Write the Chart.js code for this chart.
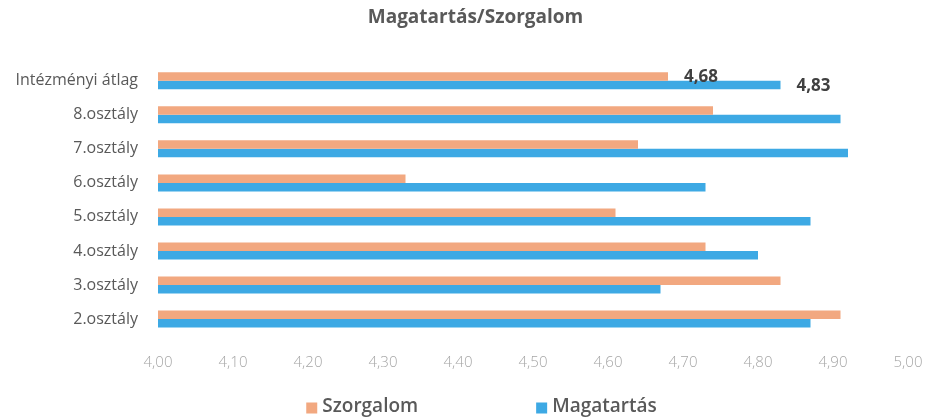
<!DOCTYPE html>
<html>
<head>
<meta charset="utf-8">
<script src="https://cdn.jsdelivr.net/npm/chart.js@4"></script>
<style>
  html, body { margin: 0; padding: 0; background: #fff; }
</style>
</head>
<body>
<canvas id="chart" width="929" height="418"></canvas>
<script>
// ========== Data ==========
const categories = ['Intézményi átlag', '8.osztály', '7.osztály', '6.osztály', '5.osztály', '4.osztály', '3.osztály', '2.osztály'];
const szorgalom  = [4.68, 4.74, 4.64, 4.33, 4.61, 4.73, 4.83, 4.91];
const magatartas = [4.83, 4.91, 4.92, 4.73, 4.87, 4.80, 4.67, 4.87];
const xTicks = [4.0, 4.1, 4.2, 4.3, 4.4, 4.5, 4.6, 4.7, 4.8, 4.9, 5.0];
// only the average row carries value labels
const labelledRows = ['Intézményi átlag'];

const FONT = "'Open Sans'";
const fmt = v => v.toFixed(2).replace('.', ',');

// value labels for the average row, next to bar ends
const valueLabels = {
  id: 'valueLabels',
  afterDatasetsDraw(chart) {
    const { ctx } = chart;
    ctx.save();
    ctx.font = 'bold 17px ' + FONT;
    ctx.fillStyle = '#404040';
    ctx.textBaseline = 'middle';
    chart.data.datasets.forEach((ds, di) => {
      chart.getDatasetMeta(di).data.forEach((bar, i) => {
        if (!labelledRows.includes(chart.data.labels[i])) return;
        ctx.fillText(fmt(ds.data[i]), bar.x + 16, bar.y + 1);
      });
    });
    ctx.restore();
  }
};

// wide-spaced legend at the bottom (built-in legend padding also grows height)
const wideLegend = {
  id: 'wideLegend',
  afterDraw(chart) {
    const { ctx } = chart;
    const gap = 118, box = 11, y = 407;
    ctx.save();
    ctx.font = '600 19px ' + FONT;
    ctx.textBaseline = 'middle';
    const items = chart.data.datasets.map(ds => ({ ds, w: box + 5 + ctx.measureText(ds.label).width }));
    const total = items.reduce((s, it) => s + it.w, 0) + gap * (items.length - 1);
    let x = (chart.width - total) / 2 + 17;
    items.forEach(it => {
      ctx.fillStyle = it.ds.backgroundColor;
      ctx.fillRect(x, y - box / 2 + 1, box, box);
      ctx.fillStyle = '#595959';
      ctx.fillText(it.ds.label, x + box + 5, y);
      x += it.w + gap;
    });
    ctx.restore();
  }
};

new Chart(document.getElementById('chart'), {
  type: 'bar',
  data: {
    labels: categories,
    datasets: [
      { label: 'Szorgalom', data: szorgalom, backgroundColor: '#F2A880', barPercentage: 1, categoryPercentage: 0.5 },
      { label: 'Magatartás', data: magatartas, backgroundColor: '#3DA9E4', barPercentage: 1, categoryPercentage: 0.5 },
    ]
  },
  options: {
    indexAxis: 'y',
    responsive: false, maintainAspectRatio: false, animation: false,
    // negative right padding nudges the centred title to the right, as in the source
    layout: { padding: { left: 0, right: -22, top: 6, bottom: 36 } },
    plugins: {
      title: { display: true, text: 'Magatartás/Szorgalom', color: '#595959', font: { size: 19, weight: 'bold', family: FONT }, padding: { top: 0, bottom: 35 } },
      legend: { display: false },
      tooltip: { enabled: false }
    },
    scales: {
      x: {
        type: 'linear', min: 4, max: 5,
        afterBuildTicks: axis => { axis.ticks = xTicks.map(v => ({ value: v })); },
        afterFit: axis => { axis.paddingRight = 21; },
        grid: { display: false }, border: { display: false },
        ticks: { color: '#a6a6a6', padding: 10, maxRotation: 0, autoSkip: false, font: { size: 15, weight: 300, family: FONT }, callback: v => fmt(v) }
      },
      y: {
        grid: { display: false }, border: { display: false },
        afterFit: axis => { axis.width = 158; },
        ticks: { color: '#595959', padding: 12, font: { size: 16, family: FONT } }
      }
    }
  },
  plugins: [valueLabels, wideLegend]
});
</script>
</body>
</html>
